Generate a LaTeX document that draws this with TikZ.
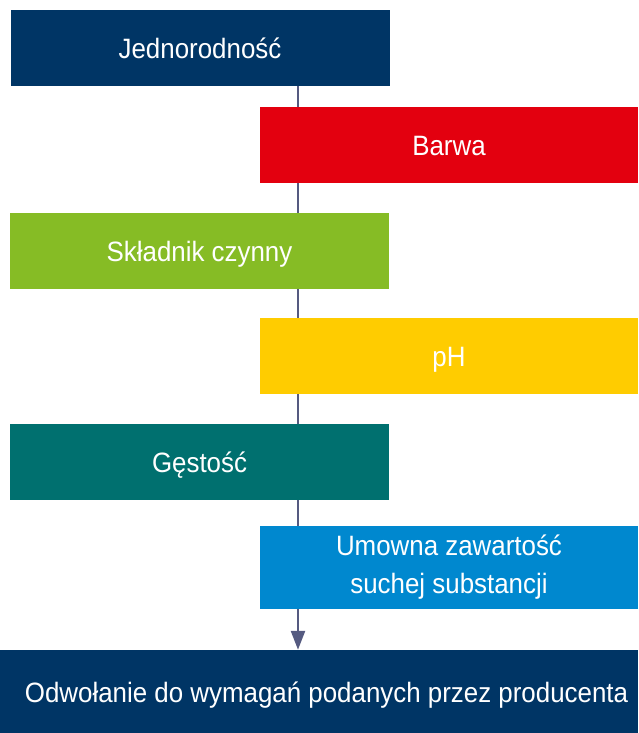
\documentclass[tikz,border=0pt]{standalone}
\usepackage{fontspec}
\setmainfont{Liberation Sans}[FakeStretch=0.925]
\usetikzlibrary{arrows.meta,backgrounds}
\definecolor{cnavy}{HTML}{003565}
\definecolor{cred}{HTML}{E3000F}
\definecolor{cgreen}{HTML}{86BC25}
\definecolor{cyellow}{HTML}{FFCC00}
\definecolor{cteal}{HTML}{00706F}
\definecolor{cblue}{HTML}{0088CF}
\definecolor{cline}{HTML}{555A80}
\begin{document}
\begin{tikzpicture}[x=1pt,y=-1pt,
  box/.style={draw=none,inner sep=0pt,minimum height=76pt,text=white,
    font=\fontsize{28}{38}\selectfont,align=center,text height=21pt,text depth=0pt},
  lbox/.style={box,minimum width=379pt},
  rbox/.style={box,minimum width=378pt},
  flow/.style={draw=cline,line width=2.5pt,-{Triangle[width=14pt,length=19pt]}}]
\useasboundingbox (0,0) rectangle (638,733);
\node[lbox,fill=cnavy] (n1) at (200,48) {Jednorodność};
\node[rbox,fill=cred] (n2) at (449,145) {Barwa};
\node[lbox,fill=cgreen] (n3) at (199.5,251) {Składnik czynny};
\node[rbox,fill=cyellow] (n4) at (449,356) {pH};
\node[lbox,fill=cteal] (n5) at (199.5,462) {Gęstość};
\node[rbox,fill=cblue,minimum height=83pt,text height=59pt,text depth=8pt] (n6) at (449,567.5) {Umowna zawartość\\suchej substancji};
\node[box,fill=cnavy,minimum width=638pt,minimum height=83pt] (n7) at (319,691.5) {\hspace{15pt}Odwołanie do wymagań podanych przez producenta};
\coordinate (lx) at (298,0);
\begin{scope}[on background layer]
\draw[flow] (n1.south -| lx) -- (n7.north -| lx);
\end{scope}
\end{tikzpicture}
\end{document}
